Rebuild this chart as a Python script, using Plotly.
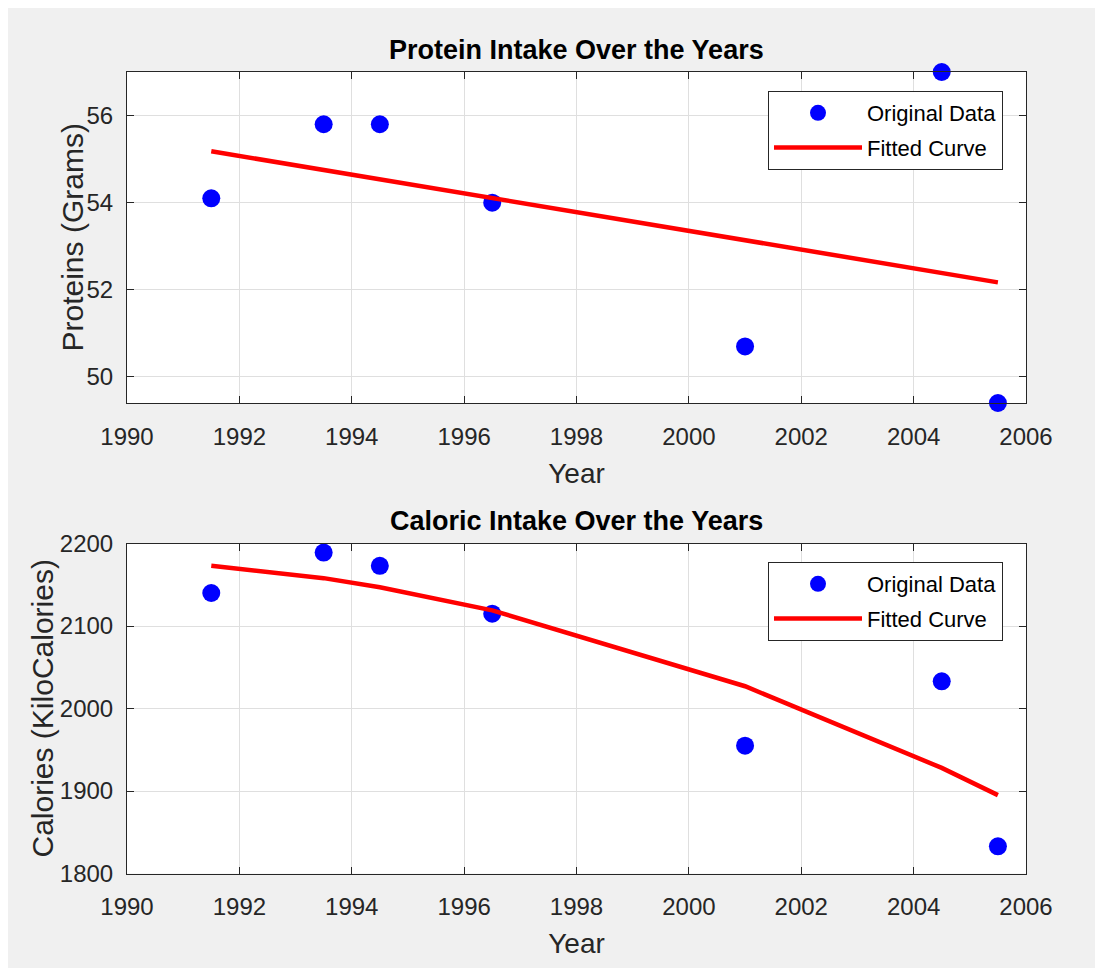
import plotly.graph_objects as go

# ---- data ----
years = [1991.5, 1993.5, 1994.5, 1996.5, 2001.0, 2004.5, 2005.5]
protein = [54.1, 55.8, 55.8, 54.0, 50.7, 57.0, 49.4]
protein_fit = [55.18, 54.75, 54.53, 54.10, 53.13, 52.38, 52.17]
calories = [2140, 2189, 2173, 2115, 1955, 2033, 1833]
calories_fit = [2173, 2158, 2147, 2119, 2027, 1928, 1895]

x_ticks = [1990, 1992, 1994, 1996, 1998, 2000, 2002, 2004, 2006]
protein_ticks = [50, 52, 54, 56]
calorie_ticks = [1800, 1900, 2000, 2100, 2200]

titles = ["Protein Intake Over the Years", "Caloric Intake Over the Years"]
y_titles = ["Proteins (Grams)", "Calories (KiloCalories)"]
x_title = "Year"
names = ["Original Data", "Fitted Curve"]

W, H = 1103, 968
FONT = "Liberation Sans, Arial, Helvetica, sans-serif"
AX = "#262626"
GRID = "#dfdfdf"
BLUE = "#0000ff"
RED = "#ff0000"

# plot frames in figure pixels (page position minus the 8px page margin)
xl, xr = 119, 1018
frames = [(64, 395), (535.5, 865.5)]
legend_tops = [83, 554]
title_gaps = [22, 23]
ytitle_x = [64, 34]


def ydom(top, bot):
    return [1 - bot / H, 1 - top / H]


fig = go.Figure()

series = [(protein, protein_fit), (calories, calories_fit)]
for i, (obs, fit) in enumerate(series):
    ax = "" if i == 0 else "2"
    leg = "legend" if i == 0 else "legend2"
    fig.add_trace(go.Scatter(
        x=years, y=obs, mode="markers", name=names[0],
        marker=dict(color=BLUE, size=18, line=dict(width=0)),
        xaxis="x" + ax, yaxis="y" + ax, legend=leg, legendgroup=f"a{i}",
        cliponaxis=False,
    ))
    fig.add_trace(go.Scatter(
        x=years, y=fit, mode="lines", name=names[1],
        line=dict(color=RED, width=4.5),
        xaxis="x" + ax, yaxis="y" + ax, legend=leg, legendgroup=f"b{i}",
    ))

common_x = dict(
    domain=[xl / W, xr / W], range=[1990, 2006], tickvals=x_ticks,
    showline=True, mirror="ticks", linecolor=AX, linewidth=1,
    ticks="inside", ticklen=7, tickcolor=AX, tickwidth=1,
    showgrid=True, gridcolor=GRID, gridwidth=1, zeroline=False,
    tickfont=dict(family=FONT, size=24, color=AX),
    ticklabelstandoff=12,
    title=dict(text=x_title, font=dict(family=FONT, size=28, color=AX), standoff=14),
    automargin=False, fixedrange=True,
)
common_y = dict(
    showline=True, mirror="ticks", linecolor=AX, linewidth=1,
    ticks="inside", ticklen=7, tickcolor=AX, tickwidth=1,
    showgrid=True, gridcolor=GRID, gridwidth=1, zeroline=False,
    tickfont=dict(family=FONT, size=24, color=AX),
    ticklabelstandoff=8,
    automargin=False, fixedrange=True,
)

fig.update_layout(
    width=W, height=H,
    margin=dict(l=0, r=0, t=0, b=0),
    paper_bgcolor="#f0f0f0", plot_bgcolor="#ffffff",
    showlegend=True,
    xaxis=dict(common_x, anchor="y"),
    yaxis=dict(common_y, domain=ydom(*frames[0]), range=[49.4, 57.0],
               tickvals=protein_ticks, anchor="x"),
    xaxis2=dict(common_x, anchor="y2"),
    yaxis2=dict(common_y, domain=ydom(*frames[1]), range=[1800, 2200],
                tickvals=calorie_ticks, anchor="x2"),
)

for i, leg in enumerate(["legend", "legend2"]):
    fig.update_layout({leg: dict(
        x=760 / W, y=1 - legend_tops[i] / H, xanchor="left", yanchor="top",
        bgcolor="#ffffff", bordercolor=AX, borderwidth=1,
        font=dict(family=FONT, size=22, color="#000000"),
        itemwidth=88, tracegroupgap=3, traceorder="grouped",
        itemclick=False, itemdoubleclick=False,
    )})

for i, (top, bot) in enumerate(frames):
    fig.add_annotation(
        text=f"<b>{titles[i]}</b>", xref="paper", yref="paper",
        x=(xl + xr) / 2 / W, y=1 - (top - title_gaps[i]) / H,
        xanchor="center", yanchor="middle",
        showarrow=False, font=dict(family=FONT, size=27, color="#000000"),
    )
    # y-axis titles
    fig.add_annotation(
        text=y_titles[i], xref="paper", yref="paper",
        x=ytitle_x[i] / W, y=1 - (top + bot) / 2 / H,
        xanchor="center", yanchor="middle", textangle=-90,
        showarrow=False, font=dict(family=FONT, size=30, color=AX),
    )

fig.write_html("out.html")
